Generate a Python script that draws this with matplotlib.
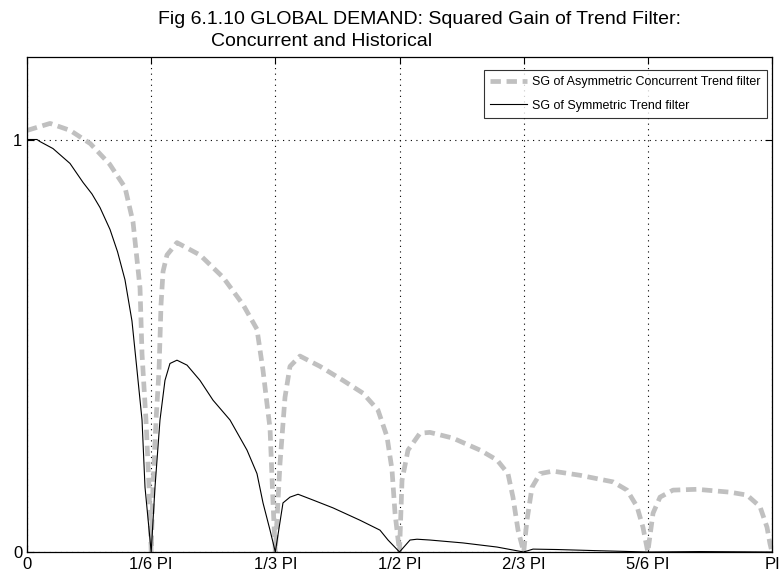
import matplotlib
matplotlib.use('Agg')
import matplotlib.pyplot as plt
from matplotlib import font_manager
import numpy as np

# Frequencies as fractions of pi
freq_asym = [0.0, 0.031, 0.058, 0.085, 0.111, 0.1315, 0.1423, 0.1517, 0.1544,
             0.1597, 0.1638, 0.1667, 0.1691, 0.1732, 0.1772, 0.1799, 0.1826,
             0.1879, 0.2013, 0.2322, 0.2631, 0.2899, 0.3087, 0.3168, 0.3221,
             0.3262, 0.3302, 0.3333, 0.3396, 0.3463, 0.353, 0.3664, 0.3933,
             0.4242, 0.451, 0.4711, 0.4832, 0.4899, 0.494, 0.5, 0.5034, 0.5114,
             0.5275, 0.5409, 0.5718, 0.6081, 0.6309, 0.6456, 0.6523, 0.6591,
             0.6667, 0.6711, 0.6779, 0.6886, 0.706, 0.7423, 0.7866, 0.8054,
             0.8188, 0.8268, 0.8333, 0.8403, 0.8497, 0.8671, 0.8993, 0.9436,
             0.9664, 0.9839, 0.9933, 0.9973, 1.0]
sg_asym = [1.022, 1.039, 1.022, 0.99, 0.94, 0.884, 0.80, 0.64, 0.48,
           0.32, 0.157, 0.0, 0.157, 0.32, 0.44, 0.60, 0.68,
           0.72, 0.75, 0.72, 0.666, 0.60, 0.54, 0.44, 0.36,
           0.30, 0.12, 0.0, 0.215, 0.375, 0.45, 0.475, 0.45,
           0.416, 0.385, 0.344, 0.28, 0.20, 0.094, 0.0, 0.174, 0.247,
           0.288, 0.29, 0.276, 0.247, 0.223, 0.19, 0.133, 0.053,
           0.0, 0.077, 0.157, 0.19, 0.196, 0.186, 0.17, 0.15,
           0.11, 0.06, 0.0, 0.094, 0.133, 0.15, 0.152, 0.145,
           0.138, 0.11, 0.06, 0.02, 0.0]

freq_sym = [0.0, 0.0134, 0.0174, 0.0349, 0.0577, 0.0752, 0.0872, 0.098,
            0.1114, 0.1215, 0.1315, 0.1409, 0.1477, 0.1544, 0.1584, 0.1667,
            0.1718, 0.1785, 0.1852, 0.1919, 0.2013, 0.2148, 0.2322, 0.2497,
            0.2725, 0.2953, 0.3087, 0.3168, 0.3262, 0.3333, 0.3436, 0.353,
            0.3638, 0.3839, 0.4107, 0.447, 0.4738, 0.4846, 0.5, 0.5141,
            0.5235, 0.5409, 0.5852, 0.6309, 0.6577, 0.6667, 0.6792, 0.7114,
            0.769, 0.8333, 0.903, 1.0]
sg_sym = [1.0, 1.0, 0.995, 0.978, 0.942, 0.896, 0.868, 0.835,
          0.782, 0.728, 0.66, 0.56, 0.44, 0.32, 0.157, 0.0,
          0.157, 0.32, 0.416, 0.457, 0.465, 0.453, 0.416, 0.368,
          0.32, 0.247, 0.19, 0.119, 0.053, 0.0, 0.119, 0.133,
          0.14, 0.126, 0.107, 0.077, 0.053, 0.029, 0.0, 0.029,
          0.031, 0.029, 0.022, 0.012, 0.003, 0.0, 0.007, 0.006,
          0.003, 0.0, 0.001, 0.0]

tick_labels = ['0', '1/6 PI', '1/3 PI', '1/2 PI', '2/3 PI', '5/6 PI', 'PI']
legend_labels = ['SG of Asymmetric Concurrent Trend filter',
                 'SG of Symmetric Trend filter']

plt.rcParams['font.family'] = ['Liberation Sans', 'DejaVu Sans']

# the legend in the reference uses a condensed face; use one if present
installed = {f.name for f in font_manager.fontManager.ttflist}
if 'Liberation Sans Narrow' in installed:
    legend_font = {'family': 'Liberation Sans Narrow', 'size': 10.5}
else:
    legend_font = {'family': 'Liberation Sans', 'size': 9}

fig = plt.figure(figsize=(7.81, 5.80), dpi=100)
ax = fig.add_axes([27 / 781, 28 / 580, 745 / 781, 495 / 580])

ax.plot(np.array(freq_asym) * np.pi, sg_asym, color='#c0c0c0', lw=3.4,
        ls=(0, (2.2, 1.2)), label=legend_labels[0])
ax.plot(np.array(freq_sym) * np.pi, sg_sym, color='black', lw=0.8,
        label=legend_labels[1])

ax.set_xlim(0, np.pi)
ax.set_ylim(0, 1.2)
ax.set_xticks(np.arange(7) * np.pi / 6)
ax.set_xticklabels(tick_labels)
ax.set_yticks([0, 1])
ax.tick_params(direction='in', length=5, top=True, right=True,
               labelsize=12, width=0.8)
ax.grid(True, color='black', ls=(0, (1, 4)), lw=0.8)
for sp in ax.spines.values():
    sp.set_linewidth(0.9)

# legend box corner placed where the reference has it
leg = ax.legend(loc='upper right', bbox_to_anchor=(767 / 781, 1 - 70 / 580),
                bbox_transform=fig.transFigure, borderaxespad=0,
                prop=legend_font, frameon=True, fancybox=False,
                edgecolor='black', handlelength=3.0, handletextpad=0.4,
                borderpad=0.5, labelspacing=0.9)
leg.get_frame().set_linewidth(0.8)

fig.text(419 / 781, 1 - 19 / 580, 'Fig 6.1.10 GLOBAL DEMAND: Squared Gain of Trend Filter:',
         ha='center', va='center', fontsize=14)
fig.text(211 / 781, 1 - 42 / 580, 'Concurrent and Historical',
         ha='left', va='center', fontsize=14)

fig.savefig('out.png', dpi=100)
